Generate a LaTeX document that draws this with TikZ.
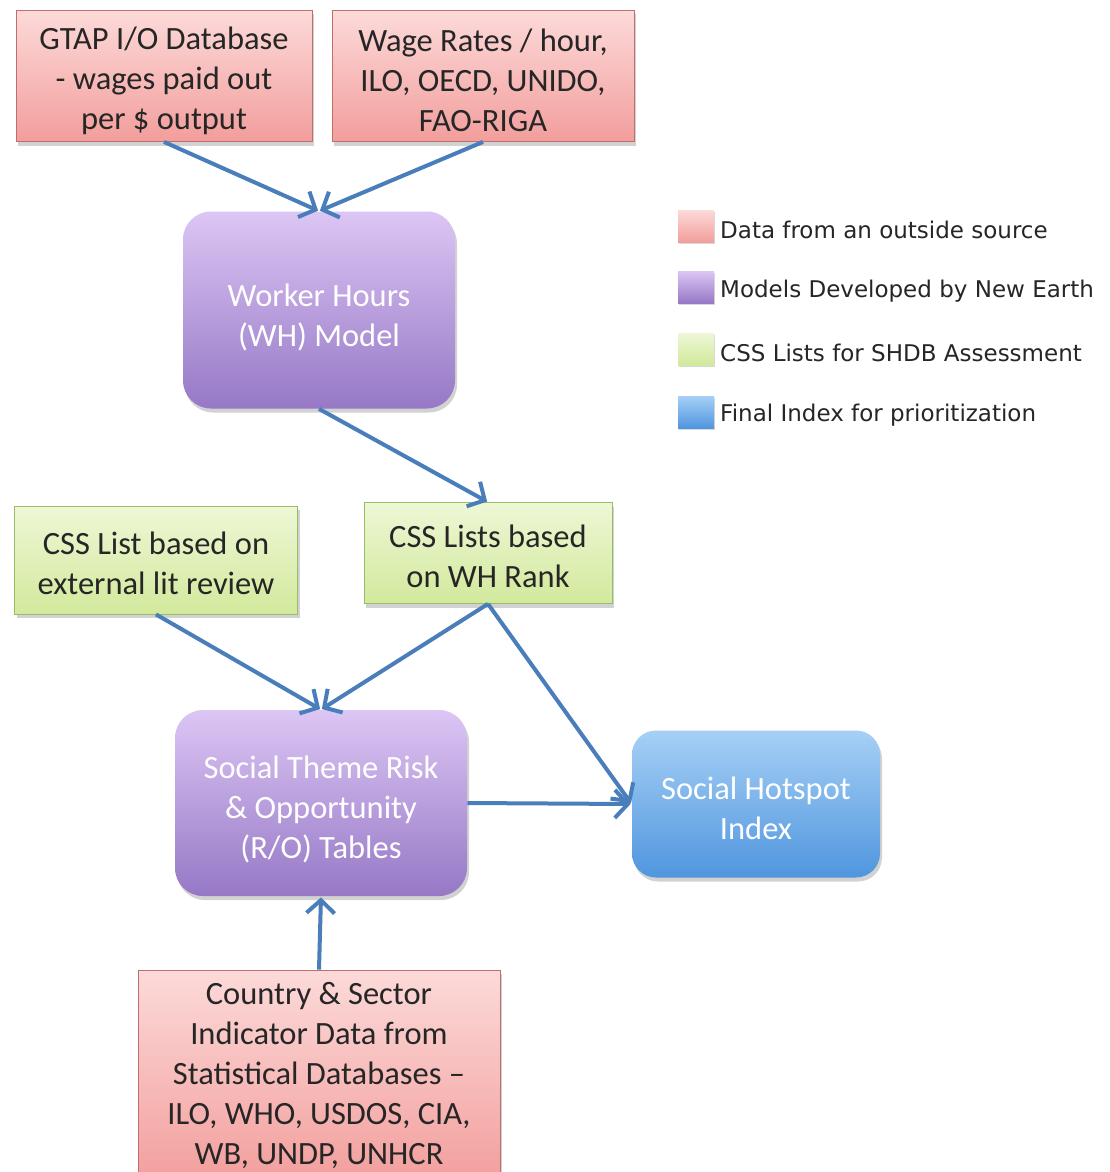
\documentclass[tikz,border=0pt]{standalone}
\usepackage{fontspec}
\setmainfont{Carlito}
\newfontfamily\legfont{DejaVu Sans}
\usetikzlibrary{shadows,arrows.meta}
\definecolor{arrowblue}{HTML}{4A7EBB}
\definecolor{txtdark}{HTML}{262626}
\definecolor{redtop}{RGB}{252,218,217}
\definecolor{redbot}{RGB}{242,158,156}
\definecolor{redline}{RGB}{190,110,108}
\definecolor{purtop}{RGB}{220,198,244}
\definecolor{purbot}{RGB}{150,120,198}
\definecolor{grntop}{RGB}{238,247,214}
\definecolor{grnbot}{RGB}{210,233,156}
\definecolor{grnline}{RGB}{150,190,100}
\definecolor{blutop}{RGB}{166,208,246}
\definecolor{blubot}{RGB}{80,150,222}
\begin{document}
\begin{tikzpicture}[x=1pt,y=-1pt,
  boxbase/.style={draw, line width=0.8pt, inner sep=0pt,
    drop shadow={opacity=0.35, shadow xshift=2pt, shadow yshift=-4pt}},
  redbox/.style={boxbase, draw=redline, top color=redtop, bottom color=redbot},
  greenbox/.style={boxbase, draw=grnline, top color=grntop, bottom color=grnbot},
  purplebox/.style={boxbase, rounded corners=28pt, draw=none, top color=purtop, bottom color=purbot},
  bluebox/.style={boxbase, rounded corners=24pt, draw=none, top color=blutop, bottom color=blubot},
  boxtext/.style={align=center, inner sep=0pt, font=\fontsize{32.5}{40}\selectfont},
  darktext/.style={boxtext, text=txtdark},
  lighttext/.style={boxtext, text=white},
  legsq/.style={minimum width=36pt, minimum height=32pt, inner sep=0pt, draw=none, drop shadow={opacity=0.3, shadow xshift=1pt, shadow yshift=-2pt}},
  legtxt/.style={anchor=west, inner sep=0pt, text=txtdark, font=\legfont\fontsize{23}{26}\selectfont},
  conn/.style={draw=arrowblue, line width=4pt, -{Straight Barb[length=13pt, width=28pt, line width=4pt]}, shorten >=1pt}
]
\clip (0,0) rectangle (1109,1172);
\fill[white] (0,0) rectangle (1109,1172);

% boxes
\node[redbox, minimum width=296pt, minimum height=131pt] (gtap) at (164,76) {};
\node[redbox, minimum width=302pt, minimum height=131pt] (wage) at (483,76) {};
\node[purplebox, minimum width=272pt, minimum height=197pt] (wh) at (319,310) {};
\node[greenbox, minimum width=283pt, minimum height=108pt] (csslit) at (156,560) {};
\node[greenbox, minimum width=248pt, minimum height=101pt] (csswh) at (488,553) {};
\node[purplebox, minimum width=292pt, minimum height=186pt] (st) at (321,803) {};
\node[bluebox, minimum width=248pt, minimum height=147pt] (sh) at (756,804) {};
\node[redbox, minimum width=362pt, minimum height=214pt] (country) at (319,1077) {};

% texts
\path (gtap.center) ++(0,5) node[darktext] (gtapT) {GTAP I/O Database\\- wages paid out\\per \$ output};
\path (wage.center) ++(0,4) node[darktext] (wageT) {Wage Rates / hour,\\ILO, OECD, UNIDO,\\FAO-RIGA};
\path (wh.center) ++(0,7) node[lighttext] (whT) {Worker Hours\\(WH) Model};
\path (csslit.center) ++(0,3) node[darktext] (csslitT) {CSS List based on\\external lit review};
\path (csswh.center) ++(0,3) node[darktext] (csswhT) {CSS Lists based\\on WH Rank};
\path (st.center) ++(0,6) node[lighttext] (stT) {Social Theme Risk\\\& Opportunity\\(R/O) Tables};
\path (sh.center) ++(0,4) node[lighttext] (shT) {Social Hotspot\\Index};
\path (country.center) ++(0,-2) node[darktext] (countryT) {Country \& Sector\\Indicator Data from\\Statistical Databases --\\ILO, WHO, USDOS, CIA,\\WB, UNDP, UNHCR};

% connectors
\draw[conn] (gtap.south) -- (wh.north);
\draw[conn] (wage.south) -- (wh.north);
\draw[conn] (wh.south) -- (csswh.north);
\draw[conn] (csslit.south) -- (st.north);
\draw[conn] (csswh.south) -- (st.north);
\draw[conn] (csswh.south) -- (sh.west);
\draw[conn] (st.east) -- (sh.west);
\draw[conn] (country.north) -- (st.south);

% legend
\node[legsq, top color=redtop, bottom color=redbot] (l1) at (696,226) {};
\node[legsq, top color=purtop, bottom color=purbot] (l2) at (696,287) {};
\node[legsq, top color=grntop, bottom color=grnbot] (l3) at (696,349) {};
\node[legsq, top color=blutop, bottom color=blubot] (l4) at (696,412) {};
\node[legtxt] (t1) at (720,230) {Data from an outside source};
\node[legtxt] (t2) at (720,291) {Models Developed by New Earth};
\node[legtxt] (t3) at (720,353) {CSS Lists for SHDB Assessment};
\node[legtxt] (t4) at (720,415) {Final Index for prioritization};
\end{tikzpicture}
\end{document}
